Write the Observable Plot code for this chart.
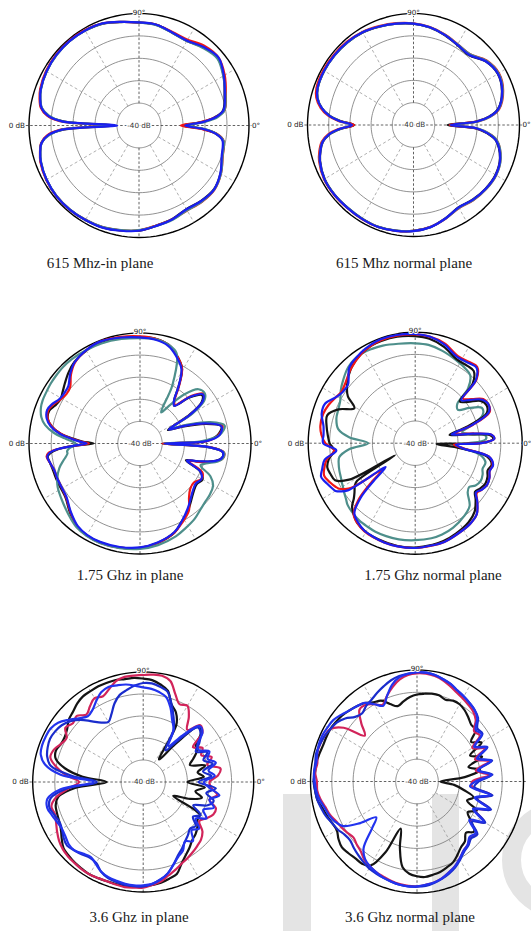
<!DOCTYPE html>
<html>
<head>
<meta charset="utf-8">
<script src="https://cdn.jsdelivr.net/npm/d3@7"></script>
<script src="https://cdn.jsdelivr.net/npm/@observablehq/plot@0.6"></script>
<style>
  html, body { margin: 0; padding: 0; background: #fff; }
  body { width: 531px; height: 931px; position: relative; overflow: hidden; }
  .panel { position: absolute; }
  .panel svg { background: transparent !important; overflow: visible; }
  .cap { position: absolute; font-family: "Liberation Serif", "Times New Roman", serif; font-size: 15px;
         line-height: 15px; white-space: nowrap; transform: translateX(-50%); color: #1a1a1a; }
  .mark-bg { position: absolute; background: #e4e4e4; }
  .mark-ring { position: absolute; border: 19px solid #e4e4e4; border-radius: 50%; box-sizing: border-box; }
</style>
</head>
<body>
<div class="mark-bg" style="left:283px;top:794px;width:28px;height:137px"></div>
<div class="mark-bg" style="left:432px;top:794px;width:27px;height:137px"></div>
<div class="mark-ring" style="left:502px;top:802px;width:116px;height:116px"></div>
<script>
// Radiation patterns, gain in dB, sampled by azimuth angle (degrees, counter-clockwise from 0° at right)

// 615 MHz, in plane
const p1Angles = [0,3,6,10,20,30,40,50,60,70,80,90,100,110,120,130,140,150,160,165,170,174,177,180,183,186,190,195,200,210,220,230,240,250,260,270,280,290,300,310,320,330,340,350,354,357];
const p1Black = [-30,-21.5,-15.5,-11.2,-8.6,-5.6,-3.2,-4.5,-6.4,-5.9,-4.4,-4.1,-3.1,-1.6,-1,-0.8,-1,-1.5,-2.5,-3.5,-5,-8.5,-16,-38,-16,-8.5,-5,-3.5,-2.5,-1.5,-1,-1,-1.3,-1.6,-2.4,-3.1,-4.6,-5.6,-6.9,-6.1,-5.6,-7.2,-9.8,-11.2,-14.8,-21];
const p1Red   = [-31,-22,-15,-10.5,-8,-5,-2.8,-3.6,-5.8,-5.6,-4.3,-4,-3,-1.5,-0.8,-0.6,-0.8,-1.2,-2.2,-3.2,-4.7,-8,-14,-33,-14,-8,-4.8,-3.4,-2.3,-1.3,-1,-1,-1.4,-1.7,-2.5,-3.2,-4.7,-5.5,-6.2,-5.5,-5.3,-7,-9.5,-11,-14.5,-22];
const p1Teal  = [-28,-20,-14,-10.5,-8.2,-5.8,-3.5,-4.8,-6.5,-6,-4.5,-4,-3,-1.6,-1.1,-0.9,-1.1,-1.6,-2.6,-3.6,-5.2,-9,-15,-36,-15,-9,-5,-3.6,-2.6,-1.5,-1.1,-1.1,-1.4,-1.8,-2.6,-3.3,-4.5,-5.2,-6.3,-5.6,-5.4,-7,-9.6,-11,-14.5,-20];
const p1Blue  = [-29,-21,-15,-11,-8.5,-5.5,-2.8,-4.3,-6.3,-5.8,-4.3,-4,-3,-1.5,-1,-0.8,-1,-1.5,-2.5,-3.5,-5,-8.5,-15,-40,-15,-8.5,-5,-3.5,-2.5,-1.5,-1,-1,-1.3,-1.5,-2.3,-3,-4.5,-5.5,-6.8,-6,-5.5,-7.3,-10,-11.5,-15,-21];

// 615 MHz, normal plane
const p2Angles = p1Angles;
const p2Black = [-34,-20.5,-14.2,-9.6,-5.6,-4.1,-5.6,-9.2,-8.6,-7.1,-5.6,-4.6,-3.9,-3.1,-2.1,-1.6,-1.4,-1.4,-1.9,-3.1,-6.1,-10.2,-15.5,-22,-15.5,-10.2,-6.6,-4.6,-3.1,-1.6,-1.4,-1.6,-1.5,-1.4,-1.9,-2.5,-3.6,-5.6,-7.4,-6.4,-5.6,-5.3,-6.6,-10.6,-15.2,-20.5];
const p2Red   = [-33,-19.5,-13.5,-9,-5,-3.5,-5,-8.5,-8.2,-6.8,-5.4,-4.4,-3.6,-2.8,-1.8,-1.2,-1,-0.9,-1.3,-2.5,-5.5,-9.5,-14.5,-22,-14.5,-9.5,-6,-4,-2.6,-1.3,-1.2,-1.4,-1.3,-1.3,-1.8,-2.5,-3.6,-5.4,-7,-6,-5.3,-5,-6.3,-10,-14.5,-20];
const p2Teal  = [-31,-19.5,-13.5,-9.2,-5.2,-3.7,-5.2,-8.6,-8.3,-6.9,-5.5,-4.5,-3.8,-3,-2,-1.6,-1.4,-1.4,-1.9,-3.1,-6.1,-10,-15,-20.5,-15,-10,-6.4,-4.4,-2.9,-1.5,-1.4,-1.6,-1.5,-1.4,-1.9,-2.5,-3.5,-5.4,-7.1,-6.1,-5.3,-5,-6.2,-10,-14.5,-19.5];
const p2Blue  = [-32.5,-20,-14,-9.5,-5.5,-4,-5.5,-9,-8.5,-7,-5.5,-4.5,-3.8,-3,-2,-1.5,-1.3,-1.3,-1.8,-3,-6,-10,-15,-21,-15,-10,-6.5,-4.5,-3,-1.5,-1.3,-1.5,-1.4,-1.3,-1.8,-2.4,-3.5,-5.5,-7.3,-6.3,-5.5,-5.2,-6.5,-10.5,-15,-20];

// 1.75 GHz, in plane
const p3Angles = [0,2,6,12,17,22,26,30,34,38,43,48,52,56,61,68,74,82,90,100,111,120,129,135,141,146,151,156,160,165,169,173,176,178,180,182,184,186,188,192,197,203,208,216,225,233,240,248,259,270,280,291,298,306,312,318,324,330,335,340,343,347,350,354,357];
const p3Black = [-40,-21,-15,-12.5,-19.5,-30,-36,-25,-16.5,-14.5,-19.5,-27,-25,-19,-11,-6.5,-3.5,-2,-1.8,-1.2,-0.8,-1.5,-2.8,-4.5,-6.5,-8,-9,-8,-6.5,-7,-9.5,-14,-20,-24,-29,-21,-13,-9.5,-8,-8.5,-9,-9,-9,-8.5,-5.5,-3,-2,-1.8,-2,-2.8,-4.3,-6.8,-10,-13,-15.5,-17.5,-18.5,-17.5,-20,-28,-22,-15,-12.5,-12.5,-19];
const p3Red   = [-40,-20,-14.5,-12,-18.5,-28.5,-35,-23.5,-15.5,-13.5,-18.5,-26.5,-24.5,-18.5,-11,-6.5,-3.5,-2,-1.5,-1,-0.5,-1.3,-3.2,-6,-9.5,-10,-9,-7,-6,-7,-9.5,-14,-19.5,-23,-27,-20,-12.5,-8.5,-7.5,-8.5,-9.5,-9.5,-9.5,-8.8,-5.8,-3,-2,-1.6,-2,-2.8,-4.3,-6.8,-9.5,-12.5,-17,-19.5,-20,-18,-19,-27,-21,-14.5,-12,-12,-18.5];
const p3Teal  = [-39,-22.5,-14,-11,-17,-27.5,-34,-22.5,-15,-13,-14,-20,-27.5,-33,-20,-6,-3.5,-2.3,-2.3,-2,-1.5,-1.3,-1,-1,-1.3,-1.5,-1.8,-2,-2.5,-4,-6.5,-11,-16,-19,-21,-20,-18,-17,-17,-15,-12,-9.5,-8,-6.5,-4.5,-2.5,-1.8,-1.5,-1.8,-2.3,-3.3,-5,-6.5,-8,-9.5,-10.5,-11,-12,-15,-21,-19,-14,-12,-12,-19];
const p3Blue  = [-39,-20,-14,-12.5,-19,-29,-35.5,-24,-16,-14,-19,-27,-25,-19,-11.5,-7,-4,-2.5,-2,-1.3,-0.5,-1.3,-3,-5.5,-8.5,-9,-8.5,-6.5,-5.5,-6.5,-9,-13.5,-19,-22.5,-26,-20,-12.5,-9,-7.8,-8.5,-9.5,-9.5,-9.5,-9,-6,-3.3,-2.3,-2,-2.3,-3,-4.5,-7,-10,-13.5,-16,-18,-19,-18,-20,-27.5,-22.5,-15,-12.5,-12.5,-19];

// 1.75 GHz, normal plane
const p4Angles = [0,3,6,9,13,17,22,27,32,37,42,45,50,55,63,73,82,90,100,109,115,122,132,140,146,151,157,163,170,175,180,185,190,195,199,204,208,210,212,214,218,221,224,228,233,239,245,252,260,270,280,287,295,305,312,318,322,326,331,336,340,345,350,354,358];
const p4Black = [-20,-13.5,-15,-25,-33.5,-25,-14,-12.5,-14,-19,-22,-12,-7.5,-7.5,-7.5,-4.5,-2.5,-1.8,-1.3,-1.3,-1.5,-2.5,-5,-8.5,-12,-17.5,-11,-7,-8,-9,-10,-12,-9,-7.5,-8,-9,-15,-39,-18,-16,-14,-12,-9,-7,-5,-4,-3.5,-3.3,-3,-3,-3.5,-4,-5,-6.5,-8.5,-12,-14.5,-13.5,-12.5,-13,-14,-13,-16,-29,-40];
const p4Red   = [-19.5,-13,-14,-22,-31,-22,-12.5,-11.5,-12.5,-17,-20,-9.5,-5,-5.5,-6,-3,-1.5,-1,-0.8,-1,-1.5,-2.5,-5,-7.5,-8.5,-7.5,-6,-5,-5,-6,-8,-12,-8,-6,-5,-6.5,-8,-9,-11,-14,-30,-22,-13,-7,-5,-3.8,-3.3,-3,-2.8,-2.8,-3.2,-3.5,-4.5,-5.5,-7,-11,-13.5,-12.5,-11.5,-12,-13,-12.5,-15,-27,-32];
const p4Teal  = [-25,-17,-17,-24,-27.5,-22.5,-16,-15,-20,-25,-23.5,-15,-10,-9,-8,-6.5,-5.3,-5,-4.5,-3.5,-3,-2.5,-3.5,-6,-8,-10,-11,-11.5,-13.5,-19,-28,-19,-14,-13,-12.5,-12,-11.3,-11,-10.5,-10,-9,-8,-7.5,-7,-6.5,-6.3,-6,-6,-6,-6.3,-6.5,-7,-8,-10,-12,-17,-18,-16,-15,-15.5,-16.5,-16,-19,-27.5,-32.5];
const p4Blue  = [-19,-13,-14,-22.5,-32.5,-22.5,-13,-11.5,-13,-17.5,-21,-10,-5.5,-6,-6.5,-3.5,-1.5,-0.8,-0.5,-0.5,-1,-2,-4,-9,-9,-7.5,-4.3,-4.3,-6.5,-7,-7,-13,-7,-5,-3.5,-5,-6.3,-7,-9,-12,-32.5,-25,-14.5,-7.5,-5.5,-4,-3.5,-3,-2.8,-2.8,-3.3,-3.5,-4.5,-5.5,-7,-11,-14,-12.5,-11.5,-12,-13,-12.3,-15,-27.5,-31];

// 3.6 GHz, in plane
const p5Angles = [0,5,10,15,20,25,30,35,40,45,50,55,60,65,70,75,80,85,90,95,100,105,110,115,120,125,130,135,140,145,150,155,160,165,170,175,180,185,190,195,200,205,210,215,220,225,230,235,240,245,250,255,260,265,270,275,280,285,290,295,300,305,310,315,320,325,330,335,340,345,350,355];
const p5Black = [-30,-22.5,-25,-21,-27.5,-25,-22,-21,-16,-14,-27.5,-37.5,-20,-15,-12.5,-7,-5,-3.5,-3,-2.5,-2.5,-2,-2,-2,-2.3,-2.5,-3.5,-5,-6,-8,-9,-9,-8,-9,-14,-22.5,-33.5,-19,-11,-9,-8.5,-8,-7,-5,-3,-2.5,-2,-1.8,-1.5,-1.8,-2,-2,-2.3,-2.3,-2.5,-3,-3.5,-4.5,-5.5,-9,-11.5,-13.5,-15.5,-16.5,-18,-20,-20.5,-35,-27.5,-22.5,-26,-22];
const p5Red   = [-20,-16,-14.5,-20,-17,-21,-19,-22.5,-15,-13.5,-19,-14,-10,-11,-7.5,-2.5,-1,-1,-1.3,-1.5,-1.5,-2.5,-5,-7,-6,-8,-10,-7.5,-8.5,-7,-10,-9,-7,-6.5,-10,-15,-21,-16,-10,-7,-7.5,-6.5,-5,-3.5,-2.5,-2,-1.8,-1.5,-1.5,-1.8,-2,-1.8,-1.5,-1.8,-2,-3,-4,-6,-7.5,-9,-10,-11,-12,-13,-15,-19,-17,-15,-15,-19,-16,-19];
const p5BlueA = [-22.5,-17.5,-20,-16,-19,-17,-21,-20,-15,-14,-22.5,-30,-22.5,-19,-14,-10,-8.5,-7.5,-7,-6,-5,-4.5,-4,-5,-7.5,-10,-11,-9,-6,-3,-1.5,-1.3,-1.3,-2,-5,-12.5,-27.5,-12.5,-6,-5,-6,-7,-7.5,-7,-6,-6,-7.5,-8.5,-7,-5,-4,-3.5,-3,-2.8,-3,-3.5,-5,-7,-10,-12.5,-14,-17,-15,-19,-17,-21,-17,-20,-16,-19,-15,-20];
const p5BlueB = [-25,-19,-22.5,-17.5,-21,-18,-22.5,-19,-16,-15,-25,-32.5,-22.5,-17.5,-12.5,-7.5,-6,-5,-5,-6,-7.5,-9,-12,-16,-18.5,-17,-14,-10,-7,-5,-4,-3.5,-4,-5,-7.5,-17.5,-29,-15,-7.5,-6,-7,-8,-7.5,-6,-5,-6,-7,-8,-7.5,-5,-3.5,-3,-2.5,-2.5,-2.5,-3.5,-5,-7,-10,-13,-15,-17,-18.5,-20,-19,-22.5,-20,-25,-19,-17,-21,-17];

// 3.6 GHz, normal plane
const p6Angles = p5Angles;
const p6Black = [-39,-27.5,-20,-25,-17.5,-22.5,-15,-19,-14,-14,-12.5,-11,-10,-10,-11,-10,-10,-10.5,-11,-12,-13.5,-15,-13,-10,-9,-7,-6,-5,-4,-3.5,-3,-3,-3,-2.5,-2,-2,-1.5,-2,-2.5,-4,-5,-6,-6.5,-5,-4,-4.5,-5,-5,-6.5,-15,-27.5,-19,-11,-8.5,-7.5,-7,-7.5,-8,-9,-10,-12,-14,-15,-17.5,-15,-19,-22.5,-19,-25,-22.5,-27.5,-32.5];
const p6Red   = [-24,-16,-22,-15,-21,-15,-20,-14,-15,-11,-9,-8,-7,-6,-4.5,-3,-2,-1.5,-1.5,-2,-3.5,-6,-9,-12,-10,-8,-8,-13,-18,-8,-3,-2,-1.5,-1.5,-2.5,-2,-3,-3,-4,-5.5,-6.5,-8,-9,-10,-11,-10,-9,-7,-6,-5,-4.5,-3.8,-3.3,-3,-3,-3.5,-4,-5,-6.5,-8,-10,-12,-13,-14.5,-13.5,-19,-13.5,-20,-13.5,-21,-14.5,-24];
const p6BlueA = [-22.5,-15,-21,-14,-20,-14,-19,-13,-14,-10,-8,-7,-6,-5,-3.5,-2.5,-1.5,-1,-1,-1.5,-2.5,-5,-9,-12.5,-10,-7,-6,-5,-3.5,-2,-1.5,-1,-1,-1.5,-2,-1.5,-2,-2.5,-3.5,-5,-6,-7.5,-10,-17.5,-25,-20,-11,-7.5,-6,-5,-4,-3.5,-3,-2.8,-3,-3.5,-4,-5,-6.5,-8,-10,-12,-13,-15,-14,-20,-14,-21,-14,-22,-15,-25];
const p6BlueB = [-21,-14.5,-20.5,-13.5,-19.5,-13.5,-18.5,-12.5,-13,-9.5,-8,-7,-6,-5,-3.5,-2.5,-1.5,-1,-1,-1.5,-2,-3,-4.5,-6,-7.5,-8.5,-10,-9,-6,-4,-3,-2,-1.5,-1,-1.5,-1.5,-1.5,-2,-2.5,-3.5,-4.5,-6,-7,-8.5,-9,-8,-7,-6,-5,-4.5,-4,-3.5,-3,-2.8,-2.8,-3,-3.8,-4.8,-6,-7.5,-9.5,-11.5,-12.5,-14,-13,-18.5,-13,-20,-13,-21,-14,-23];

const captions = ["615 Mhz-in plane", "615 Mhz normal plane", "1.75 Ghz in plane", "1.75 Ghz normal plane", "3.6 Ghz in plane", "3.6 Ghz normal plane"];

// polar grid: center of the plot is -50 dB, outer circle 0 dB
const dbMin = -50, dbMax = 0;
const ringLevels = [-40, -30, -20, -10];
const spokeAngles = [30, 60, 120, 150, 210, 240, 300, 330];

const C = {black: "#141414", red: "#f01616", teal: "#4e8f8b", blue: "#1a1ff0", crimson: "#d2245a", blueA: "#2233ee", blueB: "#1a2ccc"};

const panels = [
  {left: 0,   top: 0,   w: 265, h: 250, cx: 138.5, cy: 125,   rx: 110,   ry: 112,   caption: [100, 268], zeroDx: 3,
   angles: p1Angles, series: [[p1Black, C.black], [p1Red, C.red], [p1Teal, C.teal], [p1Blue, C.blue]]},
  {left: 265, top: 0,   w: 266, h: 250, cx: 413,   cy: 124.5, rx: 106,   ry: 111.5, caption: [404, 268], zeroDx: 3,
   angles: p2Angles, series: [[p2Black, C.black], [p2Red, C.red], [p2Teal, C.teal], [p2Blue, C.blue]]},
  {left: 0,   top: 318, w: 265, h: 250, cx: 139.5, cy: 443,   rx: 111,   ry: 110.5, caption: [130, 580], zeroDx: 3,
   angles: p3Angles, series: [[p3Black, C.black], [p3Red, C.red], [p3Teal, C.teal], [p3Blue, C.blue]]},
  {left: 265, top: 318, w: 266, h: 250, cx: 414.7, cy: 442.7, rx: 107,   ry: 111,   caption: [433, 580], zeroDx: 1,
   angles: p4Angles, series: [[p4Teal, C.teal], [p4Black, C.black], [p4Red, C.red], [p4Blue, C.blue]]},
  {left: 0,   top: 656, w: 265, h: 250, cx: 142.7, cy: 781.5, rx: 110.5, ry: 110,   caption: [139, 921.5], zeroDx: 3,
   angles: p5Angles, series: [[p5Black, C.black], [p5Red, C.crimson], [p5BlueB, C.blueB], [p5BlueA, C.blueA]]},
  {left: 265, top: 656, w: 266, h: 250, cx: 416.5, cy: 781,   rx: 106.5, ry: 111.5, caption: [410, 921.5], zeroDx: null,
   angles: p6Angles, series: [[p6Black, C.black], [p6Red, C.crimson], [p6BlueB, C.blueB], [p6BlueA, C.blueA]]}
];

const rad = (db) => (Math.max(db, dbMin) - dbMin) / (dbMax - dbMin);
const toRad = (deg) => deg * Math.PI / 180;
const px = (deg, db) => rad(db) * Math.cos(toRad(deg));
const py = (deg, db) => rad(db) * Math.sin(toRad(deg));

function ringPoints(levels) {
  const pts = [];
  for (const level of levels) for (let a = 0; a < 360; a += 3) pts.push({level, a});
  return pts;
}

const labelFont = "DejaVu Sans, sans-serif";

panels.forEach((p, i) => {
  const traces = p.series.map(([vals, color]) => ({color, rows: p.angles.map((a, k) => ({a, db: vals[k]}))}));
  const inner = ringLevels[0];
  const edge = rad(dbMax);
  const labelStyle = {fontSize: 7.2, fontFamily: labelFont, fill: "#1a1a1a", stroke: "white", strokeWidth: 2};

  const chart = Plot.plot({
    width: p.w,
    height: p.h,
    margin: 0,
    x: {domain: [-(p.cx - p.left) / p.rx, (p.left + p.w - p.cx) / p.rx], axis: null},
    y: {domain: [-(p.top + p.h - p.cy) / p.ry, (p.cy - p.top) / p.ry], axis: null},
    style: {background: "transparent", overflow: "visible"},
    marks: [
      // concentric dB rings
      Plot.line(ringPoints(ringLevels), {x: d => px(d.a, d.level), y: d => py(d.a, d.level), z: "level",
        curve: "linear-closed", stroke: "#767676", strokeWidth: 0.8}),
      // diagonal spokes every 30°
      Plot.link(spokeAngles, {x1: a => px(a, inner), y1: a => py(a, inner), x2: a => px(a, dbMax), y2: a => py(a, dbMax),
        stroke: "#9a9a9a", strokeWidth: 0.8, strokeDasharray: "3,2.5"}),
      // horizontal axis through the centre
      Plot.link([0], {x1: -edge * 1.03, y1: 0, x2: edge * 1.03, y2: 0,
        stroke: "#3a3a3a", strokeWidth: 0.8, strokeDasharray: "2.5,2"}),
      // vertical axis
      Plot.link([90, 270], {x1: a => px(a, inner), y1: a => py(a, inner), x2: a => px(a, dbMax), y2: a => py(a, dbMax),
        stroke: "#3a3a3a", strokeWidth: 0.8, strokeDasharray: "2.5,2"}),
      // outer 0 dB circle
      Plot.line(ringPoints([dbMax]), {x: d => px(d.a, d.level), y: d => py(d.a, d.level),
        curve: "linear-closed", stroke: "#000", strokeWidth: 1.4}),
      // measured patterns
      ...traces.map(t => Plot.line(t.rows, {x: d => px(d.a, d.db), y: d => py(d.a, d.db),
        curve: "catmull-rom-closed", stroke: t.color, strokeWidth: 2.2, strokeLinejoin: "round"})),
      // labels
      Plot.text(["-40 dB"], {x: 0, y: 0, text: d => d, ...labelStyle, fill: "#333", strokeWidth: 2.5}),
      Plot.text(["0 dB"], {x: -edge, y: 0, text: d => d, textAnchor: "end", dx: -4, ...labelStyle}),
      ...(p.zeroDx == null ? [] : [Plot.text(["0°"], {x: edge, y: 0, text: d => d, textAnchor: "start", dx: p.zeroDx, ...labelStyle})]),
      Plot.text(["90°"], {x: 0, y: edge, text: d => d, lineAnchor: "bottom", dy: 1, ...labelStyle})
    ]
  });

  const holder = document.createElement("div");
  holder.className = "panel";
  holder.style.left = p.left + "px";
  holder.style.top = p.top + "px";
  holder.appendChild(chart);
  document.body.appendChild(holder);

  const cap = document.createElement("div");
  cap.className = "cap";
  cap.textContent = captions[i];
  cap.style.left = p.caption[0] + "px";
  cap.style.top = (p.caption[1] - 12) + "px";
  document.body.appendChild(cap);
});
</script>
</body>
</html>
